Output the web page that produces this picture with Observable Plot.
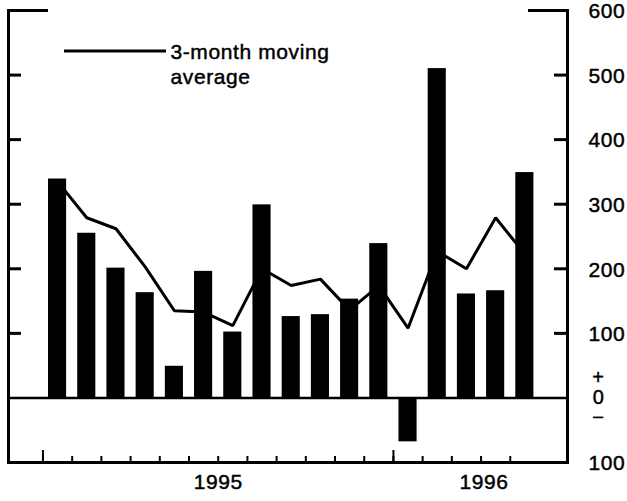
<!DOCTYPE html>
<html>
<head>
<meta charset="utf-8">
<script src="https://cdn.jsdelivr.net/npm/d3@7"></script>
<script src="https://cdn.jsdelivr.net/npm/@observablehq/plot@0.6"></script>
<style>
  html, body { margin: 0; padding: 0; background: #fff; }
  #chart svg { display: block; }
  #chart svg text { stroke: #000; stroke-width: 0.45px; letter-spacing: 0.6px; }
</style>
</head>
<body>
<div id="chart"></div>
<script>
// ---- data ----
const months = ["Jan 1995","Feb 1995","Mar 1995","Apr 1995","May 1995","Jun 1995",
                "Jul 1995","Aug 1995","Sep 1995","Oct 1995","Nov 1995","Dec 1995",
                "Jan 1996","Feb 1996","Mar 1996","Apr 1996","May 1996"];
const monthly = [339, 255, 201, 163, 49, 196, 102, 299, 126, 129, 153, 239, -68, 510, 161, 166, 349];
const movingAverage = [335, 279, 262, 203, 135, 133, 112, 200, 174, 184, 136, 174, 108, 227, 200, 279, 223];
const yTickValues = [600, 500, 400, 300, 200, 100, -100];
const innerTickValues = [500, 400, 300, 200, 100];
const yearLabels = ["1995", "1996"];
const yearLabelPos = [5.5, 14.6];
const yearStartIndex = [0, 12];
const legendLabel = "3-month moving\naverage";

const data = months.map((m, i) => ({month: m, i, value: monthly[i], ma: movingAverage[i]}));
const monthEdges = months.map((m, i) => i - 0.5);
const yearEdges = yearStartIndex.map(i => i - 0.5);
const years = yearLabels.map((label, k) => ({label, pos: yearLabelPos[k]}));

const font = "'Liberation Sans', Arial, Helvetica, sans-serif";
const half = 0.31;

const chart = Plot.plot({
  width: 627,
  height: 501,
  marginLeft: 8,
  marginRight: 60,
  marginTop: 10,
  marginBottom: 39,
  style: {fontFamily: font, fontSize: "21px", color: "#000", background: "#fff"},
  x: {type: "linear", domain: [-1.68, 17.46], axis: null},
  y: {domain: [-100, 600], axis: null},
  marks: [
    // moving average line (under the bars)
    Plot.line(data, {x: "i", y: "ma", stroke: "#000", strokeWidth: 3, strokeLinejoin: "miter"}),
    // bars
    Plot.rect(data, {x1: d => d.i - half, x2: d => d.i + half, y1: 0, y2: "value", fill: "#000"}),
    // zero line
    Plot.ruleY([0], {stroke: "#000", strokeWidth: 2.5}),
    // frame sides (no top)
    Plot.frame({anchor: "left", stroke: "#000", strokeWidth: 3}),
    Plot.frame({anchor: "right", stroke: "#000", strokeWidth: 3}),
    Plot.frame({anchor: "bottom", stroke: "#000", strokeWidth: 3}),
    // inward y ticks
    Plot.axisY({anchor: "left", ticks: innerTickValues, tickSize: -13, tickFormat: () => "", strokeWidth: 3}),
    Plot.axisY({anchor: "right", ticks: innerTickValues, tickSize: -14, tickFormat: () => "", strokeWidth: 3}),
    Plot.axisY({anchor: "left", ticks: [600], tickSize: -40, tickFormat: () => "", strokeWidth: 3}),
    Plot.axisY({anchor: "right", ticks: [600], tickSize: -40, tickFormat: () => "", strokeWidth: 3}),
    // right labels
    Plot.axisY({anchor: "right", ticks: yTickValues, tickSize: 0, tickPadding: 21,
                tickFormat: d => String(Math.abs(d)), fontSize: 21, dy: 1}),
    Plot.text([0], {y: d => d, frameAnchor: "right", dx: 31, text: () => "+\n0\n\u2212",
                    lineHeight: 1.0, fontSize: 20, textAnchor: "middle"}),
    // month ticks on the bottom
    Plot.axisX({anchor: "bottom", ticks: monthEdges, tickSize: -6, tickFormat: () => "", strokeWidth: 2}),
    Plot.axisX({anchor: "bottom", ticks: yearEdges, tickSize: -12, tickFormat: () => "", strokeWidth: 2}),
    // year labels
    Plot.text(years, {x: "pos", text: "label", frameAnchor: "bottom", dy: 26, fontSize: 21}),
    // legend text
    Plot.text([legendLabel], {frameAnchor: "top-left", dx: 162, dy: 31, text: d => d,
                              textAnchor: "start", lineAnchor: "top", lineHeight: 1.19, fontSize: 21})
  ]
});

document.getElementById("chart").appendChild(chart);

// legend line sample
d3.select(chart).append("line")
  .attr("x1", 64).attr("x2", 166).attr("y1", 51).attr("y2", 51)
  .attr("stroke", "#000").attr("stroke-width", 3);
</script>
</body>
</html>
